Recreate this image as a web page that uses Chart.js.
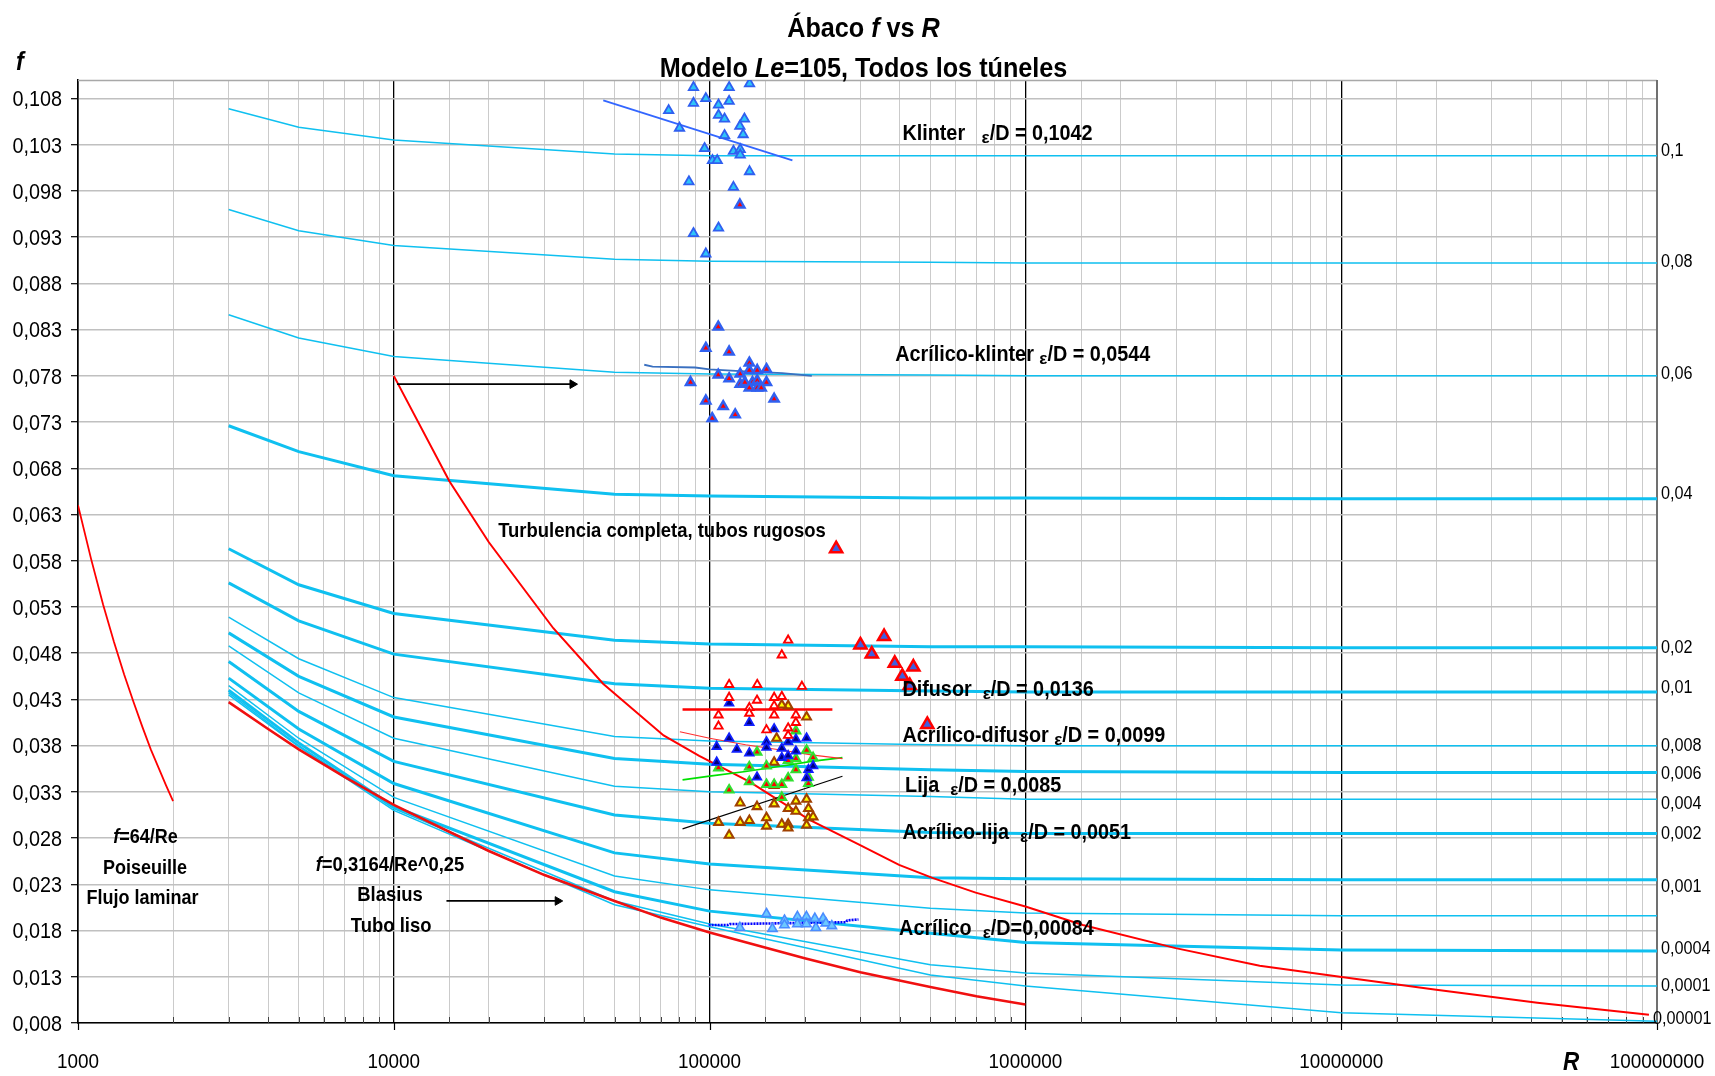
<!DOCTYPE html>
<html>
<head>
<meta charset="utf-8">
<script src="https://cdn.jsdelivr.net/npm/chart.js@4/dist/chart.umd.min.js"></script>
<style>
  html, body { margin: 0; padding: 0; background: #ffffff; }
  canvas { display: block; }
</style>
</head>
<body>
<canvas id="chart" width="1715" height="1076" style="width:1715px;height:1076px"></canvas>
<script>
// ---------- Axis ticks ----------
const fTicks = [0.008, 0.013, 0.018, 0.023, 0.028, 0.033, 0.038, 0.043, 0.048, 0.053, 0.058,
                0.063, 0.068, 0.073, 0.078, 0.083, 0.088, 0.093, 0.098, 0.103, 0.108];
const reTickLabels = [1000, 10000, 100000, 1000000, 10000000, 100000000];

// ---------- Moody (Colebrook) curves, f read at these Reynolds numbers ----------
const moodyRe = [3000, 5000, 10000, 50000, 100000, 500000, 1000000, 10000000, 100000000];
const fRel0100   = [0.1069, 0.1049, 0.1035, 0.1020, 0.1018, 0.1018, 0.1018, 0.1018, 0.1018];
const fRel0080   = [0.0960, 0.0937, 0.0921, 0.0906, 0.0904, 0.0903, 0.0902, 0.0902, 0.0902];
const fRel0060   = [0.0846, 0.0821, 0.0801, 0.0784, 0.0782, 0.0781, 0.0780, 0.0780, 0.0780];
const fRel0040   = [0.0726, 0.0698, 0.0672, 0.0652, 0.0650, 0.0648, 0.0648, 0.0647, 0.0647];
const fRel0020   = [0.0593, 0.0554, 0.0523, 0.0494, 0.0490, 0.0487, 0.0487, 0.0486, 0.0486];
const fRel0015   = [0.0556, 0.0515, 0.0479, 0.0447, 0.0442, 0.0439, 0.0438, 0.0438, 0.0438];
const fRel0010   = [0.0519, 0.0474, 0.0432, 0.0390, 0.0385, 0.0381, 0.0380, 0.0380, 0.0380];
const fRel0008   = [0.0502, 0.0455, 0.0411, 0.0366, 0.0360, 0.0354, 0.0352, 0.0351, 0.0351];
const fRel0006   = [0.0488, 0.0437, 0.0388, 0.0336, 0.0330, 0.0325, 0.0322, 0.0322, 0.0322];
const fRel0004   = [0.0471, 0.0417, 0.0363, 0.0305, 0.0296, 0.0286, 0.0285, 0.0285, 0.0285];
const fRel0002   = [0.0453, 0.0398, 0.0339, 0.0264, 0.0252, 0.0237, 0.0236, 0.0235, 0.0235];
const fRel0001   = [0.0445, 0.0388, 0.0324, 0.0239, 0.0224, 0.0204, 0.0199, 0.0196, 0.0196];
const fRel00004  = [0.0440, 0.0383, 0.0314, 0.0222, 0.0201, 0.0177, 0.0167, 0.0159, 0.0158];
const fRel00001  = [0.0437, 0.0380, 0.0312, 0.0212, 0.0187, 0.0143, 0.0134, 0.0121, 0.0120];
const fRel000001 = [0.0435, 0.0379, 0.0310, 0.0208, 0.0184, 0.0132, 0.0120, 0.0091, 0.0082];

// ---------- Laminar flow (Poiseuille) ----------
const laminarRe = [1000, 1100, 1200, 1300, 1400, 1500, 1600, 1700, 1800, 1900, 2000];
const laminarF  = [0.0640, 0.0582, 0.0533, 0.0492, 0.0457, 0.0427, 0.0400, 0.0376, 0.0356, 0.0337, 0.0320];

// ---------- Smooth pipe (Blasius) ----------
const blasiusRe = [3000, 4000, 5000, 7000, 10000, 20000, 30000, 50000, 70000, 100000,
                   200000, 300000, 500000, 700000, 1000000];
const blasiusF  = [0.0427, 0.0398, 0.0376, 0.0346, 0.0316, 0.0266, 0.0240, 0.0212, 0.0194, 0.0178,
                   0.0150, 0.0135, 0.0119, 0.0109, 0.0100];

// ---------- Complete turbulence boundary, rough pipes ----------
const roughRe = [10000, 15000, 20000, 32000, 46000, 71500, 92700, 133600, 206600, 297500, 398100,
                 507500, 696000, 1000000, 1520000, 2990000, 5520000, 9900000, 20000000, 41800000, 94300000];
const roughF  = [0.0780, 0.0666, 0.0600, 0.0507, 0.0447, 0.0391, 0.0369, 0.0341, 0.0300, 0.0273, 0.0251,
                 0.0237, 0.0221, 0.0206, 0.0186, 0.0161, 0.0142, 0.0130, 0.0116, 0.0102, 0.0089];

// ---------- Arrows ----------
const arrowTurbRe = [10240, 36800];
const arrowTurbF  = [0.0771, 0.0771];
const arrowBlasRe = [14680, 33040];
const arrowBlasF  = [0.0212, 0.0212];

// ---------- Measurements: Klinter ----------
const klinterRe = [88900, 115300, 133800, 88900, 97300, 115300, 74200, 106700, 106700, 111500, 128900, 124700,
                   80300, 127700, 111500, 96400, 119000, 125000, 125000, 102100, 105700, 133800, 86000, 119000,
                   106700, 88900, 97300];
const klinterF  = [0.1092, 0.1092, 0.1096, 0.1075, 0.1080, 0.1077, 0.1067, 0.1073, 0.1062, 0.1058, 0.1058, 0.1050,
                   0.1048, 0.1041, 0.1040, 0.1026, 0.1023, 0.1025, 0.1019, 0.1013, 0.1013, 0.1001, 0.0990, 0.0984,
                   0.0940, 0.0934, 0.0912];
const klinterTrendRe = [46050, 182900];
const klinterTrendF  = [0.1078, 0.1013];

// ---------- Measurements: Acrílico-klinter ----------
const acrKlinterRe = [106500, 97300, 115300, 133600, 133600, 141500, 151400, 125000, 106500, 87000, 115300, 125000,
                      129300, 136700, 141500, 151400, 133600, 141500, 145700, 160100, 97300, 110400, 120500, 101900,
                      124700];
const acrKlinterF  = [0.0833, 0.0810, 0.0806, 0.0794, 0.0786, 0.0786, 0.0787, 0.0782, 0.0781, 0.0773, 0.0777, 0.0771,
                      0.0773, 0.0773, 0.0775, 0.0773, 0.0767, 0.0767, 0.0767, 0.0755, 0.0753, 0.0747, 0.0738, 0.0734,
                      0.0965];
const acrKlinterTrendRe = [62100, 66000, 90000, 100000, 125000, 170000, 210700];
const acrKlinterTrendF  = [0.0792, 0.0790, 0.0789, 0.0787, 0.0785, 0.0783, 0.0780];

// ---------- Measurements: Difusor ----------
const difusorHighRe = [251600, 300300, 356900, 326300, 385800, 441800, 407700, 430400, 489000];
const difusorHighF  = [0.0593, 0.0489, 0.0498, 0.0479, 0.0469, 0.0465, 0.0455, 0.0445, 0.0403];
const difusorRe = [177300, 169300, 115300, 141500, 196000, 115300, 141300, 160100, 169300, 133600,
                   160100, 106700, 133600, 160100, 187600, 106700, 187600, 177300, 151400, 177300];
const difusorF  = [0.0494, 0.0478, 0.0446, 0.0446, 0.0444, 0.0432, 0.0429, 0.0432, 0.0433, 0.0421,
                   0.0423, 0.0413, 0.0415, 0.0413, 0.0413, 0.0401, 0.0405, 0.0399, 0.0397, 0.0391];
const difusorTrendRe = [82100, 244800];
const difusorTrendF  = [0.0419, 0.0419];

// ---------- Measurements: Acrílico-difusor ----------
const acrDifusorRe = [115300, 133600, 115300, 160100, 105300, 122000, 133600, 151400, 151400, 177300, 187600,
                      202800, 169300, 169300, 177300, 187600, 105300, 205600, 212700, 141300, 202800];
const acrDifusorF  = [0.0426, 0.0405, 0.0388, 0.0398, 0.0379, 0.0376, 0.0372, 0.0384, 0.0378, 0.0384, 0.0387,
                      0.0388, 0.0377, 0.0367, 0.0369, 0.0374, 0.0362, 0.0354, 0.0358, 0.0346, 0.0345];
const acrDifusorTrendRe = [80500, 100000, 130000, 170000, 210000, 263400];
const acrDifusorTrendF  = [0.0395, 0.0388, 0.0381, 0.0375, 0.0370, 0.0366];

// ---------- Measurements: Lija ----------
const lijaRe = [187600, 202800, 141300, 187600, 212700, 106700, 133600, 151400, 177300, 187600, 205600,
                133600, 151400, 160100, 169300, 177300, 205600, 115300, 169300];
const lijaF  = [0.0396, 0.0375, 0.0373, 0.0366, 0.0367, 0.0356, 0.0357, 0.0358, 0.0364, 0.0354, 0.0346,
                0.0341, 0.0338, 0.0338, 0.0338, 0.0345, 0.0339, 0.0332, 0.0324];
const lijaTrendRe = [82100, 100000, 130000, 170000, 210000, 263400];
const lijaTrendF  = [0.0343, 0.0347, 0.0352, 0.0358, 0.0363, 0.0367];

// ---------- Measurements: Acrílico-lija ----------
const acrLijaRe = [202800, 177300, 169300, 163000, 160100, 160100, 202800, 187600, 125000, 160100, 141300, 177300,
                   187600, 205600, 205600, 212700, 151400, 133600, 125000, 106700, 151400, 169300, 177300, 177300,
                   202800, 115300];
const acrLijaF  = [0.0411, 0.0423, 0.0424, 0.0388, 0.0362, 0.0337, 0.0322, 0.0320, 0.0318, 0.0317, 0.0314, 0.0312,
                   0.0309, 0.0312, 0.0302, 0.0303, 0.0302, 0.0299, 0.0297, 0.0297, 0.0293, 0.0295, 0.0295, 0.0291,
                   0.0294, 0.0283];
const acrLijaTrendRe = [82100, 263400];
const acrLijaTrendF  = [0.0290, 0.0347];

// ---------- Measurements: Acrílico ----------
const acrilicoRe = [151400, 124700, 158100, 172600, 172600, 189700, 189700, 202600, 202600, 215400, 217000,
                    228800, 233400, 243800];
const acrilicoF  = [0.0198, 0.0183, 0.0182, 0.0191, 0.0186, 0.0195, 0.0187, 0.0195, 0.0187, 0.0193, 0.0183,
                    0.0193, 0.0188, 0.0185];
const acrilicoTrendRe = [99300, 114000, 116000, 270000, 273000, 296100];
const acrilicoTrendF  = [0.0186, 0.0186, 0.0187, 0.0189, 0.0191, 0.0192];

// ======================================================================
const FAMILY = '"Liberation Sans", Arial, sans-serif';
const SX = 0.9; // horizontal squeeze applied to all chart text
const fnt = (size, bold, italic) => `${italic ? 'italic ' : ''}${bold ? 'bold ' : ''}${size}px ${FAMILY}`;
const pts = (xs, ys) => xs.map((v, i) => ({ x: v, y: ys[i] }));
const isDecade = v => Math.abs(Math.log10(v) - Math.round(Math.log10(v))) < 1e-9;
const commaNum = (v, d) => v.toFixed(d).replace('.', ',');

function runsWidth(ctx, runs) {
  let w = 0;
  for (const r of runs) { ctx.font = r.font; w += ctx.measureText(r.text).width * (r.sx ?? SX); }
  return w;
}
function drawRuns(ctx, runs, x, y, align) {
  const w = runsWidth(ctx, runs);
  let cx = align === 'center' ? x - w / 2 : align === 'right' ? x - w : x;
  for (const r of runs) {
    ctx.font = r.font;
    const sx = r.sx ?? SX;
    ctx.save();
    ctx.translate(cx, y + (r.dy || 0));
    ctx.scale(sx, 1);
    ctx.textAlign = 'left';
    ctx.textBaseline = 'alphabetic';
    ctx.fillStyle = r.color || '#000';
    ctx.fillText(r.text, 0, 0);
    ctx.restore();
    cx += ctx.measureText(r.text).width * sx;
  }
}

// Curve styles for the roughness family (thin / thick strokes)
const CYAN = '#0fc0f0';
const moodySets = [
  [fRel0100, 1.5], [fRel0080, 1.5], [fRel0060, 1.5], [fRel0040, 3],
  [fRel0020, 3], [fRel0015, 3], [fRel0010, 1.5], [fRel0008, 3], [fRel0006, 1.5],
  [fRel0004, 3], [fRel0002, 3], [fRel0001, 1.5], [fRel00004, 3], [fRel00001, 1.5], [fRel000001, 1.5]
];

const lineDs = (xs, ys, color, width, order, extra) => Object.assign({
  data: pts(xs, ys), showLine: true, borderColor: color, borderWidth: width,
  pointRadius: 0, pointHoverRadius: 0, tension: 0, order: order, fill: false
}, extra || {});
const markerDs = (xs, ys, fillC, borderC, radius, bw) => ({
  data: pts(xs, ys), showLine: false, pointStyle: 'triangle', pointRadius: radius,
  pointBackgroundColor: fillC, pointBorderColor: borderC, pointBorderWidth: bw, order: 0
});

const datasets = [];
moodySets.forEach(([arr, w]) => datasets.push(lineDs(moodyRe, arr, CYAN, w, 6)));
datasets.push(lineDs(laminarRe, laminarF, '#ff0000', 1.8, 4));
datasets.push(lineDs(blasiusRe, blasiusF, '#f01010', 2.6, 4));
datasets.push(lineDs(roughRe, roughF, '#ff0000', 2, 4));
const arrowExtra = { pointRadius: [0, 5], pointStyle: 'triangle', rotation: 90,
                     pointBackgroundColor: '#000', pointBorderColor: '#000', pointBorderWidth: 1 };
datasets.push(lineDs(arrowTurbRe, arrowTurbF, '#000', 1.8, 3, arrowExtra));
datasets.push(lineDs(arrowBlasRe, arrowBlasF, '#000', 1.8, 3, arrowExtra));
// trend lines
datasets.push(lineDs(klinterTrendRe, klinterTrendF, '#3366ff', 1.8, 2));
datasets.push(lineDs(acrKlinterTrendRe, acrKlinterTrendF, '#3a70c0', 1.8, 2));
datasets.push(lineDs(difusorTrendRe, difusorTrendF, '#ff0000', 2.5, 2));
datasets.push(lineDs(acrDifusorTrendRe, acrDifusorTrendF, '#ff3030', 1.2, 2));
datasets.push(lineDs(lijaTrendRe, lijaTrendF, '#00e000', 1.6, 2));
datasets.push(lineDs(acrLijaTrendRe, acrLijaTrendF, '#000000', 1.1, 2));
datasets.push(lineDs(acrilicoTrendRe, acrilicoTrendF, '#0000ff', 2.6, 2, { borderDash: [2, 1] }));
// markers
datasets.push(markerDs(klinterRe, klinterF, '#2ec4f8', '#2f5ff0', 5.4, 1.8));
datasets.push(markerDs(acrKlinterRe, acrKlinterF, '#ff0000', '#3060f0', 5.2, 2.5));
datasets.push(markerDs(difusorHighRe, difusorHighF, '#3f5fe0', '#ff0000', 7, 2.5));
datasets.push(markerDs(difusorRe, difusorF, '#ffffff', '#ff0000', 4.8, 1.9));
datasets.push(markerDs(acrDifusorRe, acrDifusorF, '#000080', '#1020ff', 5, 1.7));
datasets.push(markerDs(lijaRe, lijaF, '#ff0000', '#30e030', 5, 2.1));
datasets.push(markerDs(acrLijaRe, acrLijaF, '#ffff00', '#a04000', 5, 2.1));
datasets.push(markerDs(acrilicoRe, acrilicoF, '#6cc8ff', '#4a8cff', 5.4, 1.6));

// Text labels drawn on the plot (anchored in data coordinates)
const rightLabels = [
  ['0,1', 0.1025], ['0,08', 0.0905], ['0,06', 0.0784], ['0,04', 0.0654], ['0,02', 0.0487],
  ['0,01', 0.0444], ['0,008', 0.0381], ['0,006', 0.0351], ['0,004', 0.0318], ['0,002', 0.0286],
  ['0,001', 0.0229], ['0,0004', 0.0162], ['0,0001', 0.0122], ['0,00001', 0.0086]
];
const materialLabels = [
  ['Klinter   ', '/D = 0,1042', 407800, 0.1035],
  ['Acrílico-klinter ', '/D = 0,0544', 387000, 0.0796],
  ['Difusor  ', '/D = 0,0136', 407800, 0.0434],
  ['Acrílico-difusor ', '/D = 0,0099', 407800, 0.0384],
  ['Lija  ', '/D = 0,0085', 415900, 0.0330],
  ['Acrílico-lija  ', '/D = 0,0051', 407800, 0.0279],
  ['Acrílico  ', '/D=0,00084', 398100, 0.0175]
];

const framePlugin = {
  id: 'frame',
  beforeDatasetsDraw(chart) {
    const { ctx, chartArea: a, scales: { x } } = chart;
    ctx.save();
    ctx.strokeStyle = '#a8a8a8'; ctx.lineWidth = 1.5;
    ctx.beginPath(); ctx.moveTo(a.left, a.top + 0.5); ctx.lineTo(a.right, a.top + 0.5); ctx.stroke();
    ctx.strokeStyle = '#707070'; ctx.lineWidth = 2;
    ctx.beginPath(); ctx.moveTo(a.right, a.top); ctx.lineTo(a.right, a.bottom); ctx.stroke();
    // tick marks on the Reynolds axis
    for (const t of x.ticks) {
      const px = Math.round(x.getPixelForValue(t.value)) + 0.5;
      ctx.beginPath();
      if (isDecade(t.value)) { ctx.strokeStyle = '#000'; ctx.lineWidth = 1.2; ctx.moveTo(px, a.bottom); ctx.lineTo(px, a.bottom + 7); }
      else { ctx.strokeStyle = '#404040'; ctx.lineWidth = 1; ctx.moveTo(px, a.bottom - 6); ctx.lineTo(px, a.bottom); }
      ctx.stroke();
    }
    ctx.restore();
  },
  afterDatasetsDraw(chart) {
    const { ctx, chartArea: a, scales: { x, y } } = chart;
    ctx.save();
    // y tick labels
    fTicks.forEach(v => {
      drawRuns(ctx, [{ text: commaNum(v, 3), font: fnt(22, false, false) }], a.left - 16, y.getPixelForValue(v) + 7.8, 'right');
    });
    // x tick labels
    reTickLabels.forEach(v => {
      drawRuns(ctx, [{ text: String(v), font: fnt(21, false, false) }], x.getPixelForValue(v), a.bottom + 45, 'center');
    });
    // roughness labels at the right edge
    rightLabels.forEach(([t, v]) => {
      const lx = t === '0,00001' ? a.right - 4 : a.right + 4;
      drawRuns(ctx, [{ text: t, font: fnt(18, false, false) }], lx, y.getPixelForValue(v) + 6.4, 'left');
    });
    // axis titles
    drawRuns(ctx, [{ text: 'f', font: fnt(26, true, true) }], a.left - 62, a.top - 10, 'left');
    drawRuns(ctx, [{ text: 'R', font: fnt(25, true, true) }], a.right - 94, a.bottom + 47, 'left');
    // title
    const cx = (a.left + a.right) / 2 - 4;
    drawRuns(ctx, [
      { text: 'Ábaco ', font: fnt(28, true, false) }, { text: 'f', font: fnt(28, true, true) },
      { text: ' vs ', font: fnt(28, true, false) }, { text: 'R', font: fnt(28, true, true) }
    ], cx, a.top - 43, 'center');
    drawRuns(ctx, [
      { text: 'Modelo ', font: fnt(28, true, false) }, { text: 'Le', font: fnt(28, true, true) },
      { text: '=105, Todos los túneles', font: fnt(28, true, false) }
    ], cx, a.top - 3, 'center');
    // material labels
    materialLabels.forEach(([name, rest, re, f]) => {
      drawRuns(ctx, [
        { text: name, font: fnt(22, true, false) },
        { text: 'ε', font: fnt(17, true, false), dy: 3, sx: 1 },
        { text: rest, font: fnt(22, true, false) }
      ], x.getPixelForValue(re), y.getPixelForValue(f), 'left');
    });
    // annotations
    drawRuns(ctx, [{ text: 'Turbulencia completa, tubos rugosos', font: fnt(20.5, true, false) }],
             x.getPixelForValue(21400), y.getPixelForValue(0.0606), 'left');
    drawRuns(ctx, [{ text: 'f', font: fnt(20, true, true) }, { text: '=64/Re', font: fnt(20, true, false) }],
             x.getPixelForValue(1637), y.getPixelForValue(0.0275), 'center');
    drawRuns(ctx, [{ text: 'Poiseuille', font: fnt(20, true, false) }],
             x.getPixelForValue(1630), y.getPixelForValue(0.0241), 'center');
    drawRuns(ctx, [{ text: 'Flujo laminar', font: fnt(20, true, false) }],
             x.getPixelForValue(1601), y.getPixelForValue(0.0209), 'center');
    drawRuns(ctx, [{ text: 'f', font: fnt(20.5, true, true) }, { text: '=0,3164/Re^0,25', font: fnt(20.5, true, false) }],
             x.getPixelForValue(9727), y.getPixelForValue(0.0244), 'center');
    drawRuns(ctx, [{ text: 'Blasius', font: fnt(20.5, true, false) }],
             x.getPixelForValue(9727), y.getPixelForValue(0.0212), 'center');
    drawRuns(ctx, [{ text: 'Tubo liso', font: fnt(20.5, true, false) }],
             x.getPixelForValue(9806), y.getPixelForValue(0.0178), 'center');
    ctx.restore();
  }
};

new Chart(document.getElementById('chart'), {
  type: 'scatter',
  data: { datasets },
  options: {
    responsive: false,
    animation: false,
    devicePixelRatio: 1,
    events: [],
    layout: { padding: { top: 80, right: 58, bottom: 0, left: 0 } },
    plugins: { legend: { display: false }, title: { display: false }, tooltip: { enabled: false } },
    scales: {
      x: {
        type: 'logarithmic', min: 1000, max: 100000000, position: 'bottom',
        afterFit: s => { s.height = 53; },
        ticks: { display: false, autoSkip: false },
        grid: {
          drawTicks: false,
          color: c => (c.tick && isDecade(c.tick.value)) ? '#000000' : '#cbcbcb',
          lineWidth: c => (c.tick && isDecade(c.tick.value)) ? 1.3 : 1
        },
        border: { display: true, color: '#000', width: 1.6 }
      },
      y: {
        type: 'linear', min: 0.008, max: 0.110, position: 'left',
        afterBuildTicks: s => { s.ticks = fTicks.map(v => ({ value: v })); },
        afterFit: s => { s.width = 78; },
        ticks: { display: false },
        grid: { color: '#c0c0c0', lineWidth: 1.4, drawTicks: true, tickLength: 7, tickColor: '#000', tickWidth: 1.2 },
        border: { display: true, color: '#000', width: 1.6 }
      }
    }
  },
  plugins: [framePlugin]
});
</script>
</body>
</html>
